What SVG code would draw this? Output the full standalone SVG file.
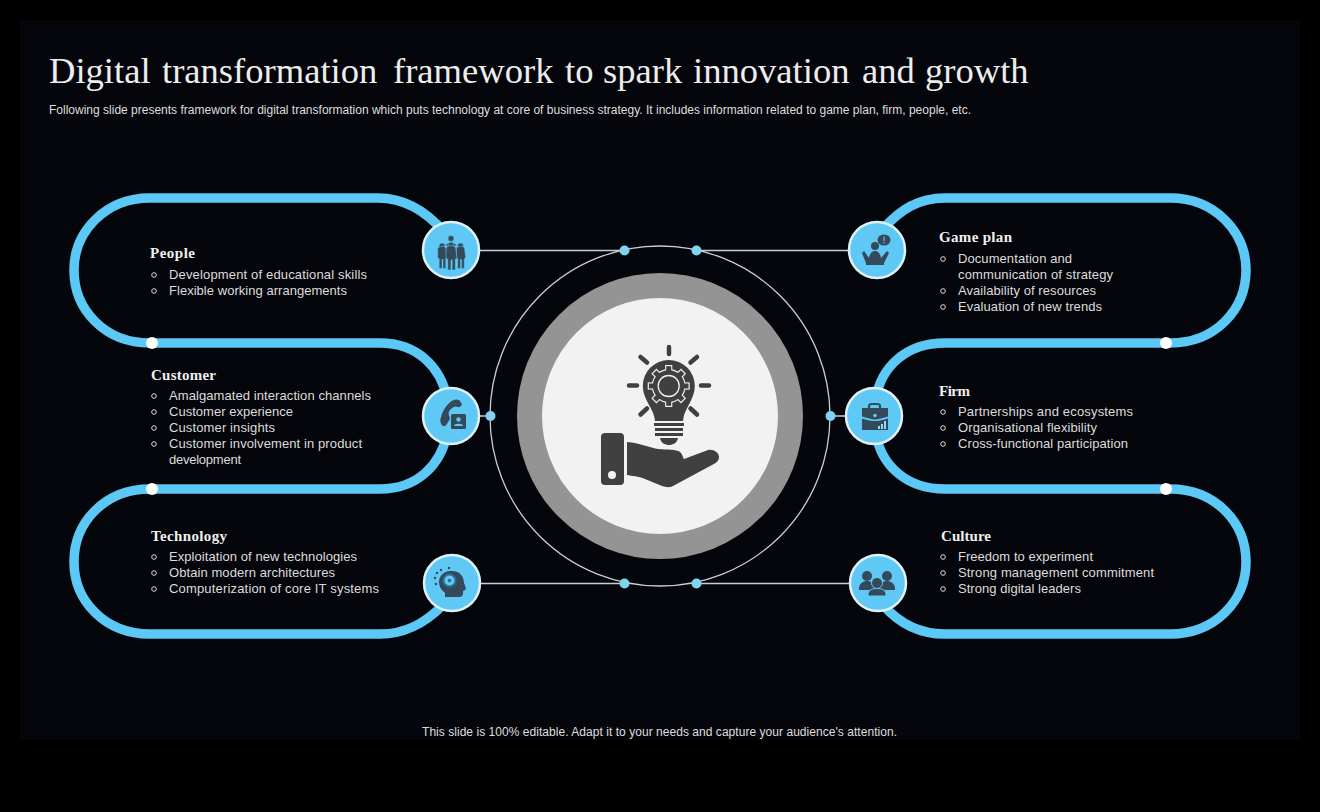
<svg xmlns="http://www.w3.org/2000/svg" width="1320" height="812" viewBox="0 0 1320 812">
<style>
.ttl{font-family:"Liberation Serif","Times New Roman",serif;fill:#ededed}
.sub{font-family:"Liberation Sans",Arial,sans-serif;font-size:12px;fill:#dedede}
.h{font-family:"Liberation Serif","Times New Roman",serif;font-weight:bold;font-size:15px;fill:#f0f0f0}
.b{font-family:"Liberation Sans",Arial,sans-serif;font-size:13px;fill:#dcdcdc}
.bu{fill:none;stroke:#dcdcdc;stroke-width:1}
.track{fill:none;stroke:#5cc8f5;stroke-width:9.500}
.thin{fill:none;stroke:#c9ced2;stroke-width:1.300}
.dot{fill:#7fd4f2}
.wd{fill:#fff}
.nc{fill:#60c8f4;stroke:#dff0f6;stroke-width:2.500}
.ic{fill:#34495a}
.ray{stroke:#404040;stroke-width:4.500;stroke-linecap:round}
</style>
<defs>
<g id="tw"><rect x="-3.600" y="-21" width="7.200" height="6" fill="#f2f2f2"/></g>
<g id="td"><rect x="-2.500" y="-19.800" width="5" height="6" fill="#404040"/></g>
<path id="person" d="M-4.500 -5 a4.500 3.500 0 0 1 9 0 l1 10 h-1.500 v11 h-3 v-10 h-1 v10 h-3 v-11 h-1.500 z"/>
</defs>
<rect width="1320" height="812" fill="#000"/>
<rect x="20" y="20" width="1280" height="720" fill="#05060b"/>
<text class="ttl" y="83" font-size="36.600"><tspan x="49">Digital</tspan> <tspan x="162">transformation</tspan> <tspan x="393">framework</tspan> <tspan x="565">to</tspan> <tspan x="603">spark</tspan> <tspan x="693">innovation</tspan> <tspan x="862">and</tspan> <tspan x="925">growth</tspan></text>
<text class="sub" x="49" y="114" textLength="922" lengthAdjust="spacing">Following slide presents framework for digital transformation which puts technology at core of business strategy. It includes information related to game plan, firm, people, etc.</text>
<text class="sub" x="422" y="736" textLength="475" lengthAdjust="spacing">This slide is 100% editable. Adapt it to your needs and capture your audience's attention.</text>

<g id="connectors">
<path class="track" d="M444 232C426 211 405 198 378 198H150C105 198 74 232 74 270C74 310 105 343 150 343H380C418 343 441 368 447 398"/>
<path class="track" d="M447 434C441 464 418 489 380 489H150C105 489 74 522 74 562C74 601 105 634 150 634H380C405 634 424 624 442 606"/>
<path class="track" d="M884 228C900 210 918 198 945 198H1170C1215 198 1246 232 1246 270C1246 310 1215 343 1170 343H945C905 343 881 368 876 398"/>
<path class="track" d="M876 434C881 464 905 489 945 489H1170C1215 489 1246 522 1246 562C1246 601 1215 634 1170 634H945C920 634 900 624 884 606"/>
<path class="thin" d="M480 250.500H624M696 250.500H850M480 583.500H624M696 583.500H850M480 416H490M830 416H848"/>
<circle class="wd" cx="152" cy="343" r="6"/><circle class="wd" cx="152" cy="489" r="6"/>
<circle class="wd" cx="1166" cy="343" r="6"/><circle class="wd" cx="1166" cy="489" r="6"/>
</g>

<g id="center">
<circle cx="660" cy="416" r="170" fill="none" stroke="#c9ced2" stroke-width="1.300"/>
<circle cx="660" cy="416" r="130.500" fill="#f2f2f2" stroke="#949494" stroke-width="25"/>
<circle class="dot" cx="624.500" cy="250.500" r="5"/><circle class="dot" cx="696.500" cy="250.500" r="5"/>
<circle class="dot" cx="490.500" cy="416" r="5"/><circle class="dot" cx="830.500" cy="416" r="5"/>
<circle class="dot" cx="624.500" cy="583.500" r="5"/><circle class="dot" cx="696.500" cy="583.500" r="5"/>
<g class="ray">
<path d="M669 347V354M629 385.500H637M701 385.500H709M640.500 357L647 362.500M697 357L690.500 362.500M640.500 414.500L647 408.500M697 414.500L690.500 408.500"/>
</g>
<path fill="#404040" d="M642.800 386A26 26 0 1 1 694.800 386C694.800 400 684 408 683 421H655C654 408 642.800 400 642.800 386Z"/>
<path fill="#404040" d="M654 423H684V426H654ZM655 428H683V431H655ZM655 433H683V436H655ZM660 438H678C677 443 673 445 669 445C665 445 661 443 660 438Z"/>
<g transform="translate(668.700 386)">
<circle r="17" fill="#f2f2f2"/>
<use href="#tw"/><use href="#tw" transform="rotate(45)"/><use href="#tw" transform="rotate(90)"/><use href="#tw" transform="rotate(135)"/><use href="#tw" transform="rotate(180)"/><use href="#tw" transform="rotate(225)"/><use href="#tw" transform="rotate(270)"/><use href="#tw" transform="rotate(315)"/>
<use href="#td"/><use href="#td" transform="rotate(45)"/><use href="#td" transform="rotate(90)"/><use href="#td" transform="rotate(135)"/><use href="#td" transform="rotate(180)"/><use href="#td" transform="rotate(225)"/><use href="#td" transform="rotate(270)"/><use href="#td" transform="rotate(315)"/>
<circle r="15.800" fill="#404040"/>
<circle r="10.500" fill="#404040" stroke="#f2f2f2" stroke-width="1.300"/>
<circle r="7.500" fill="#404040"/>
</g>
<rect x="601" y="433" width="23" height="52" rx="4" fill="#404040"/>
<circle cx="612" cy="475" r="4" fill="#f2f2f2"/>
<path fill="#404040" d="M627 442C640 443 648 447 658 449C668 450 676 449 680 452C683 455 683 458 684 459L708 450C714 449 719 453 719 457C719 461 716 463 712 465L673 486C669 488 666 487 662 486L645 479C638 476 632 476 627 475Z"/>
</g>

<g id="people">
<circle class="nc" cx="451" cy="250" r="28"/>
<g class="ic" stroke="#60c8f4" stroke-width=".6"><circle cx="451" cy="238.500" r="3"/><path d="M445 245L451 241.500L457 245L451 249Z"/>
<circle cx="442" cy="246" r="3"/><use href="#person" transform="translate(442 254) scale(.95 .9)"/>
<circle cx="460.500" cy="246" r="3"/><use href="#person" transform="translate(460.500 254) scale(.95 .9)"/>
<circle cx="451" cy="245.500" r="3.200"/><use href="#person" transform="translate(451 254) scale(1.100 1)"/></g>
<text class="h" x="150" y="258" textLength="45">People</text>
<circle class="bu" cx="154" cy="275" r="2.300"/><text class="b" x="169" y="279" textLength="198">Development of educational skills</text>
<circle class="bu" cx="154" cy="291" r="2.300"/><text class="b" x="169" y="295" textLength="178">Flexible working arrangements</text>
</g>

<g id="customer">
<circle class="nc" cx="451" cy="416" r="28"/>
<path class="ic" d="M441 420C441 425 444 427 446 424L449 419C450 417 447 416 448 412C450 407 455 405 457 406C459 407 461 406 461 404L459 401C454 398 444 406 441 420Z" stroke="#34495a" stroke-width="1.500"/>
<rect class="ic" x="451" y="414" width="15" height="15" rx="1.500"/>
<circle cx="458.500" cy="419.500" r="2.200" fill="#60c8f4"/><path d="M454 426C454 423 463 423 463 426Z" fill="#60c8f4"/>
<text class="h" x="151" y="380" textLength="65">Customer</text>
<circle class="bu" cx="154" cy="396" r="2.300"/><text class="b" x="169" y="400" textLength="202">Amalgamated interaction channels</text>
<circle class="bu" cx="154" cy="412" r="2.300"/><text class="b" x="169" y="416" textLength="124">Customer experience</text>
<circle class="bu" cx="154" cy="428" r="2.300"/><text class="b" x="169" y="432" textLength="106">Customer insights</text>
<circle class="bu" cx="154" cy="444" r="2.300"/><text class="b" x="169" y="448" textLength="193">Customer involvement in product</text>
<text class="b" x="169" y="464" textLength="72">development</text>
</g>

<g id="technology">
<circle class="nc" cx="452" cy="583" r="28"/>
<path class="ic" d="M450 571C460 570 464 577 464 583C465 586 467 589 465 590L463 591C463 595 463 597 458 597V597L455 597V597H445V593C441 590 439 586 439 582C439 576 444 571 450 571Z"/>
<circle cx="449.500" cy="580.500" r="6" fill="#60c8f4" stroke="#2a6f96" stroke-width="2"/><circle cx="449.500" cy="580.500" r="1.800" fill="#2a6f96"/>
<g class="ic"><circle cx="437" cy="573" r="1.200"/><circle cx="441" cy="570" r="1.200"/><circle cx="435" cy="578" r="1.200"/><circle cx="436" cy="584" r="1.200"/><circle cx="449" cy="568" r="1.200"/></g>
<text class="h" x="151" y="541" textLength="76">Technology</text>
<circle class="bu" cx="154" cy="557" r="2.300"/><text class="b" x="169" y="561" textLength="188">Exploitation of new technologies</text>
<circle class="bu" cx="154" cy="573" r="2.300"/><text class="b" x="169" y="577" textLength="166">Obtain modern architectures</text>
<circle class="bu" cx="154" cy="589" r="2.300"/><text class="b" x="169" y="593" textLength="210">Computerization of core IT systems</text>
</g>

<g id="game-plan">
<circle class="nc" cx="877" cy="250" r="28"/>
<g class="ic"><circle cx="875" cy="246" r="4"/>
<path d="M864 251L869 258C870 253 872 251 875 251C878 251 880 253 881 258L887 251L889 253L884 263V265H866V263L862 253Z"/>
<ellipse cx="884" cy="240" rx="6.500" ry="5.500"/></g>
<rect x="883.500" y="236.500" width="1.200" height="4.500" fill="#60c8f4"/><rect x="883.500" y="242" width="1.200" height="1.300" fill="#60c8f4"/>
<text class="h" x="939" y="242" textLength="73">Game plan</text>
<circle class="bu" cx="943" cy="259" r="2.300"/><text class="b" x="958" y="263" textLength="114">Documentation and</text>
<text class="b" x="958" y="279" textLength="155">communication of strategy</text>
<circle class="bu" cx="943" cy="291" r="2.300"/><text class="b" x="958" y="295" textLength="138">Availability of resources</text>
<circle class="bu" cx="943" cy="307" r="2.300"/><text class="b" x="958" y="311" textLength="144">Evaluation of new trends</text>
</g>

<g id="firm">
<circle class="nc" cx="874" cy="416" r="28"/>
<path fill="none" stroke="#34495a" stroke-width="2.200" d="M869 408V406C869 404 870 404 872 404H877C879 404 880 404 880 406V408"/>
<path class="ic" d="M862 408H888V416.500C880 419 876 419.500 875 419.500C874 419.500 870 419 862 416.500ZM862 418.500C868 420.500 872 421 875 421C878 421 882 420.500 888 418.500V430H862Z"/>
<circle cx="875" cy="415.500" r="1.800" fill="#60c8f4"/>
<path d="M878 429V426H880V429ZM881 429V424H883V429ZM884 429V421H886V429Z" fill="#8ed8f5"/>
<text class="h" x="939" y="396" textLength="31">Firm</text>
<circle class="bu" cx="943" cy="412" r="2.300"/><text class="b" x="958" y="416" textLength="175">Partnerships and ecosystems</text>
<circle class="bu" cx="943" cy="428" r="2.300"/><text class="b" x="958" y="432" textLength="139">Organisational flexibility</text>
<circle class="bu" cx="943" cy="444" r="2.300"/><text class="b" x="958" y="448" textLength="170">Cross-functional participation</text>
</g>

<g id="culture">
<circle class="nc" cx="878" cy="583" r="28"/>
<g class="ic"><circle cx="867" cy="576" r="5"/><path d="M859 588C860 583 863 581 867 581C871 581 874 583 875 588V590H859Z"/>
<circle cx="887" cy="576" r="5"/><path d="M879 588C880 583 883 581 887 581C891 581 894 583 895 588V590H879Z"/>
<circle cx="877" cy="583" r="5.500" stroke="#60c8f4" stroke-width="1"/><path d="M868 595C868 590 872 588.500 877 588.500C882 588.500 886 590 886 595V596H868Z" stroke="#60c8f4" stroke-width="1"/></g>
<text class="h" x="941" y="541" textLength="50">Culture</text>
<circle class="bu" cx="943" cy="557" r="2.300"/><text class="b" x="958" y="561" textLength="135">Freedom to experiment</text>
<circle class="bu" cx="943" cy="573" r="2.300"/><text class="b" x="958" y="577" textLength="196">Strong management commitment</text>
<circle class="bu" cx="943" cy="589" r="2.300"/><text class="b" x="958" y="593" textLength="123">Strong digital leaders</text>
</g>
</svg>
